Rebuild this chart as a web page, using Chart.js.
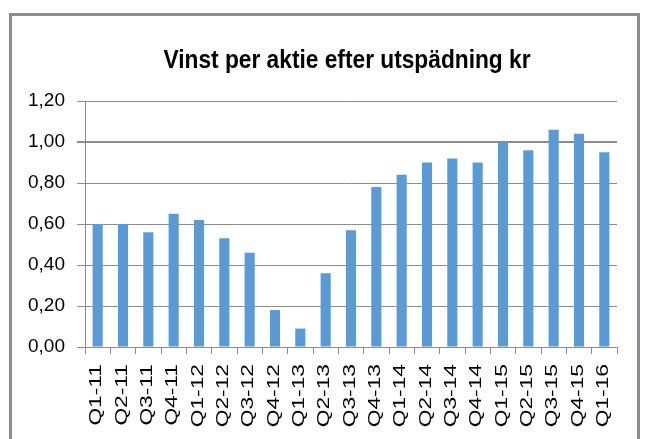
<!DOCTYPE html>
<html lang="sv">
<head>
<meta charset="UTF-8">
<title>Vinst per aktie efter utspädning kr</title>
<style>
  html, body { margin: 0; padding: 0; background: #fff; }
  .wrap { position: relative; width: 647px; height: 439px; overflow: hidden; }
  .frame { position: absolute; left: 9px; top: 13px; width: 625px; height: 440px; border: 3px solid #8c8c8c; }
  canvas { position: absolute; left: 0; top: 0; }
</style>
</head>
<body>
<div class="wrap">
  <div class="frame"></div>
  <canvas id="epsChart" width="647" height="439"></canvas>
</div>
<script src="https://cdn.jsdelivr.net/npm/chart.js"></script>
<script>
  const quarters = ['Q1-11', 'Q2-11', 'Q3-11', 'Q4-11', 'Q1-12', 'Q2-12', 'Q3-12', 'Q4-12',
    'Q1-13', 'Q2-13', 'Q3-13', 'Q4-13', 'Q1-14', 'Q2-14', 'Q3-14', 'Q4-14',
    'Q1-15', 'Q2-15', 'Q3-15', 'Q4-15', 'Q1-16'];
  const eps = [0.60, 0.60, 0.56, 0.65, 0.62, 0.53, 0.46, 0.18,
    0.09, 0.36, 0.57, 0.78, 0.84, 0.90, 0.92, 0.90,
    1.00, 0.96, 1.06, 1.04, 0.95];
  const yTicks = [0, 0.2, 0.4, 0.6, 0.8, 1.0, 1.2];
  const chartTitle = 'Vinst per aktie efter utspädning kr';

  const sans = "'Liberation Sans', Arial, sans-serif";
  const gridGrey = '#8c8c8c';

  // title and x labels are drawn squeezed/stretched like the original Excel picture
  const textPlugin = {
    id: 'textPlugin',
    afterDraw(chart) {
      const ctx = chart.ctx;
      const area = chart.chartArea;
      ctx.save();
      ctx.fillStyle = '#000';

      // title
      ctx.font = 'bold 25px ' + sans;
      const w = ctx.measureText(chartTitle).width;
      const sx = 367 / w;
      ctx.save();
      ctx.translate(347, 68);
      ctx.scale(sx, 1);
      ctx.textAlign = 'center';
      ctx.textBaseline = 'alphabetic';
      ctx.fillText(chartTitle, 0, 0);
      ctx.restore();

      // rotated x labels
      const xs = chart.scales.x;
      ctx.font = '17px ' + sans;
      ctx.textAlign = 'right';
      ctx.textBaseline = 'middle';
      quarters.forEach((q, i) => {
        const x = xs.getPixelForTick(i) - 1;
        ctx.save();
        ctx.translate(x, area.bottom + 17);
        ctx.rotate(-Math.PI / 2);
        ctx.scale(1.34, 1);
        ctx.fillText(q, 0, 0);
        ctx.restore();
      });
      ctx.restore();
    }
  };

  new Chart(document.getElementById('epsChart'), {
    type: 'bar',
    data: {
      labels: quarters,
      datasets: [{
        label: 'Vinst per aktie',
        data: eps,
        backgroundColor: '#5b9bd5',
        barPercentage: 0.4,
        categoryPercentage: 1.0
      }]
    },
    options: {
      responsive: false,
      animation: false,
      layout: { padding: { left: 0, right: 30, top: 101, bottom: 0 } },
      plugins: {
        legend: { display: false },
        tooltip: { enabled: false },
        title: { display: false }
      },
      scales: {
        x: {
          grid: { display: true, drawOnChartArea: false, drawTicks: true, tickLength: 7, color: gridGrey, offset: true },
          border: { color: gridGrey, width: 1 },
          ticks: { display: false, autoSkip: false },
          afterFit: (axis) => { axis.height = 92; }
        },
        y: {
          min: 0,
          max: 1.2,
          afterBuildTicks: (axis) => { axis.ticks = yTicks.map(v => ({ value: v })); },
          grid: {
            color: gridGrey,
            lineWidth: (c) => (c.tick && c.tick.value === 1 ? 2 : 1),
            tickLength: 8,
            drawTicks: true
          },
          border: { color: gridGrey, width: 1 },
          ticks: {
            color: '#000',
            font: { family: sans, size: 19 },
            padding: 12,
            callback: (v) => v.toFixed(2).replace('.', ',')
          },
          afterFit: (axis) => { axis.width = 85; }
        }
      }
    },
    plugins: [textPlugin]
  });
</script>
</body>
</html>
